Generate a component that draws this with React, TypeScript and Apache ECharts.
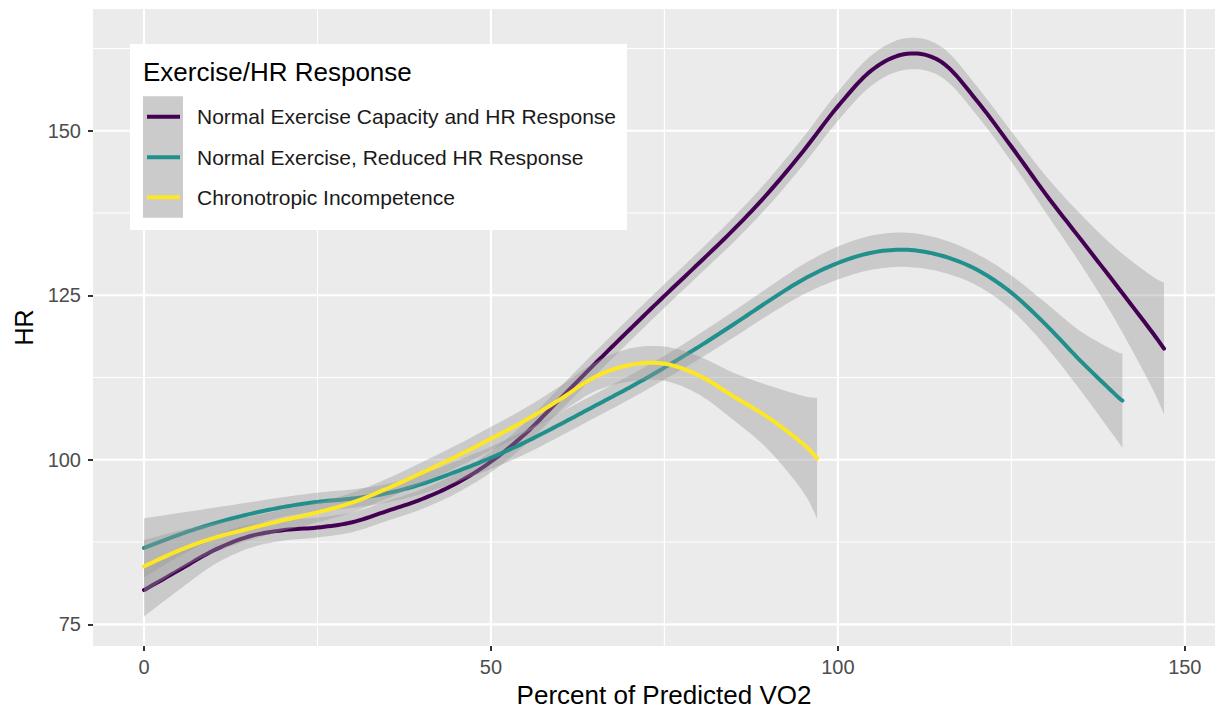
import React, { useEffect, useRef } from "react";
import * as echarts from "echarts";

// ---- Data ----
const legendTitle = "Exercise/HR Response";
const seriesNames = [
  "Normal Exercise Capacity and HR Response",
  "Normal Exercise, Reduced HR Response",
  "Chronotropic Incompetence",
];
const seriesColors = ["#440154", "#21908C", "#FDE725"];

const normalX = [0, 5, 10, 15, 20, 25, 30, 35, 40, 45, 50, 55, 60, 65, 70, 75, 80, 85, 90, 95, 100, 105, 110, 115, 120, 125, 130, 135, 140, 145, 147];
const normalHR = [80.2, 83.2, 86.2, 88.3, 89.3, 89.7, 90.5, 92.2, 94.0, 96.4, 99.7, 104.0, 109.3, 114.6, 119.8, 124.9, 129.9, 135.0, 140.6, 146.9, 153.7, 159.3, 161.7, 160.4, 154.6, 147.6, 140.3, 133.5, 126.7, 119.8, 116.9];
const normalSE = [4.0, 3.0, 2.2, 1.8, 1.6, 1.5, 1.5, 1.5, 1.5, 1.5, 1.6, 1.7, 1.8, 1.8, 1.8, 1.8, 1.8, 1.9, 2.0, 2.1, 2.2, 2.3, 2.4, 2.3, 2.2, 2.3, 2.8, 3.8, 5.5, 8.3, 10.0];

const reducedX = [0, 5, 10, 15, 20, 25, 30, 35, 40, 45, 50, 55, 60, 65, 70, 75, 80, 85, 90, 95, 100, 105, 110, 115, 120, 125, 130, 135, 140, 141];
const reducedHR = [86.6, 88.6, 90.3, 91.7, 92.8, 93.6, 94.1, 94.9, 96.3, 98.2, 100.3, 102.7, 105.4, 108.2, 111.0, 114.0, 117.2, 120.6, 124.1, 127.4, 129.9, 131.5, 131.9, 131.0, 128.9, 125.4, 120.5, 115.0, 109.9, 109.0];
const reducedSE = [4.5, 3.3, 2.4, 1.8, 1.5, 1.4, 1.4, 1.4, 1.5, 1.6, 1.7, 1.8, 1.8, 1.8, 1.8, 1.8, 1.9, 2.0, 2.1, 2.3, 2.5, 2.6, 2.6, 2.5, 2.4, 2.6, 3.3, 4.5, 6.6, 7.2];

const chronoX = [0, 5, 10, 15, 20, 25, 30, 35, 40, 45, 50, 55, 60, 65, 70, 75, 80, 85, 90, 95, 97];
const chronoHR = [83.8, 86.2, 88.1, 89.5, 90.8, 92.0, 93.5, 95.6, 98.0, 100.5, 103.2, 106.0, 109.2, 112.6, 114.4, 114.6, 112.8, 109.6, 106.4, 102.4, 100.2];
const chronoSE = [4.0, 3.0, 2.2, 1.8, 1.6, 1.5, 1.5, 1.5, 1.6, 1.7, 1.8, 1.9, 2.0, 2.2, 2.5, 2.6, 2.9, 3.6, 4.9, 7.3, 9.2];

const xMajorTicks = [0, 50, 100, 150];
const xMinorTicks = [25, 75, 125];
const yMajorTicks = [75, 100, 125, 150];
const yMinorTicks = [87.5, 112.5, 137.5, 162.5];

const X_MIN = -7.35;
const X_MAX = 154.35;
const Y_MIN = 71.7;
const Y_MAX = 168.5;

const xTitle = "Percent of Predicted VO2";
const yTitle = "HR";

const FONT = "'Liberation Sans', Arial, Helvetica, sans-serif";
const RIBBON = "rgba(153,153,153,0.4)";

const groups = [
  { x: normalX, y: normalHR, se: normalSE },
  { x: reducedX, y: reducedHR, se: reducedSE },
  { x: chronoX, y: chronoHR, se: chronoSE },
];

// Catmull-Rom smoothing of an already-projected pixel path (drawing only)
function smoothPath(pts: number[][], n = 10): number[][] {
  const out: number[][] = [];
  const L = pts.length;
  for (let i = 0; i < L - 1; i++) {
    const p0 = pts[Math.max(i - 1, 0)];
    const p1 = pts[i];
    const p2 = pts[i + 1];
    const p3 = pts[Math.min(i + 2, L - 1)];
    for (let s = 0; s < n; s++) {
      const t = s / n;
      const t2 = t * t;
      const t3 = t2 * t;
      const f = (a: number, b: number, c: number, d: number) =>
        0.5 * (2 * b + (-a + c) * t + (2 * a - 5 * b + 4 * c - d) * t2 + (-a + 3 * b - 3 * c + d) * t3);
      out.push([f(p0[0], p1[0], p2[0], p3[0]), f(p0[1], p1[1], p2[1], p3[1])]);
    }
  }
  out.push(pts[L - 1]);
  return out;
}

export default function App() {
  const ref = useRef<HTMLDivElement>(null);

  useEffect(() => {
    if (!ref.current) return;
    const chart = echarts.init(ref.current, undefined, { renderer: "svg" });

    const gridData: number[][] = [
      ...xMajorTicks.map((v) => [v, 0, 1]),
      ...xMinorTicks.map((v) => [v, 0, 0]),
      ...yMajorTicks.map((v) => [v, 1, 1]),
      ...yMinorTicks.map((v) => [v, 1, 0]),
    ];

    const series: any[] = [
      {
        type: "custom",
        name: "grid",
        z: 1,
        silent: true,
        data: gridData,
        encode: { x: -1, y: -1 },
        renderItem: (params: any, api: any) => {
          const v = api.value(0);
          const isY = api.value(1) === 1;
          const major = api.value(2) === 1;
          const p1 = isY ? api.coord([X_MIN, v]) : api.coord([v, Y_MIN]);
          const p2 = isY ? api.coord([X_MAX, v]) : api.coord([v, Y_MAX]);
          return {
            type: "line",
            shape: { x1: p1[0], y1: p1[1], x2: p2[0], y2: p2[1] },
            style: { stroke: "#FFFFFF", lineWidth: major ? 2.2 : 1.1 },
          };
        },
      },
    ];

    groups.forEach((g, i) => {
      const ribbonData = g.x.map((x, k) => [x, g.y[k] - g.se[k], g.y[k] + g.se[k]]);
      series.push({
        type: "custom",
        name: "ribbon" + i,
        z: 2 + i * 2,
        silent: true,
        data: ribbonData,
        encode: { x: 0, y: [1, 2] },
        renderItem: (params: any, api: any) => {
          if (params.dataIndex !== 0) return null;
          const upper = ribbonData.map((d) => api.coord([d[0], d[2]]));
          const lower = ribbonData.map((d) => api.coord([d[0], d[1]]));
          const pts = [...smoothPath(upper), ...smoothPath(lower).reverse()];
          return {
            type: "polygon",
            shape: { points: pts },
            style: { fill: RIBBON, stroke: "none" },
          };
        },
      });
      const lineData = g.x.map((x, k) => [x, g.y[k]]);
      series.push({
        type: "custom",
        name: seriesNames[i],
        z: 3 + i * 2,
        silent: true,
        data: lineData,
        encode: { x: 0, y: 1 },
        renderItem: (params: any, api: any) => {
          if (params.dataIndex !== 0) return null;
          const pts = smoothPath(lineData.map((d) => api.coord([d[0], d[1]])));
          return {
            type: "polyline",
            shape: { points: pts },
            style: {
              stroke: seriesColors[i],
              lineWidth: 4,
              fill: "none",
              lineCap: "round",
              lineJoin: "round",
            },
          };
        },
      });
    });

    const legendX = 130;
    const legendY = 44;
    const keyRows = [116.7, 157.3, 197.3];
    const graphicEls: any[] = [
      {
        type: "rect",
        shape: { x: legendX, y: legendY, width: 497, height: 186 },
        style: { fill: "#FFFFFF" },
        z: 100,
      },
      {
        type: "text",
        x: 143,
        y: 72,
        style: {
          text: legendTitle,
          fill: "#000000",
          font: `26px ${FONT}`,
          verticalAlign: "middle",
        },
        z: 101,
      },
    ];
    keyRows.forEach((ry, i) => {
      graphicEls.push({
        type: "rect",
        shape: { x: 143, y: ry - 20.5, width: 40, height: 41 },
        style: { fill: "#CBCBCB" },
        z: 101,
      });
      graphicEls.push({
        type: "line",
        shape: { x1: 147, y1: ry, x2: 180, y2: ry },
        style: { stroke: seriesColors[i], lineWidth: 4 },
        z: 102,
      });
      graphicEls.push({
        type: "text",
        x: 197,
        y: ry,
        style: {
          text: seriesNames[i],
          fill: "#1A1A1A",
          font: `21px ${FONT}`,
          verticalAlign: "middle",
        },
        z: 102,
      });
    });

    chart.setOption({
      animation: false,
      backgroundColor: "#FFFFFF",
      grid: {
        left: 93,
        top: 9,
        width: 1122,
        height: 641,
        show: true,
        backgroundColor: "#EBEBEB",
        borderWidth: 0,
        containLabel: false,
      },
      xAxis: {
        type: "value",
        min: X_MIN,
        max: X_MAX,
        axisLine: { show: false, onZero: false },
        splitLine: { show: false },
        axisTick: {
          show: true,
          customValues: xMajorTicks,
          length: 5,
          lineStyle: { color: "#333333", width: 2 },
        },
        axisLabel: {
          customValues: xMajorTicks,
          color: "#4D4D4D",
          fontSize: 20,
          fontFamily: FONT,
          margin: 11,
        },
        name: xTitle,
        nameLocation: "middle",
        nameGap: 36,
        nameTextStyle: {
          color: "#000000",
          fontSize: 26,
          fontFamily: FONT,
          padding: [0, 0, 0, 20],
        },
      },
      yAxis: {
        type: "value",
        min: Y_MIN,
        max: Y_MAX,
        axisLine: { show: false, onZero: false },
        splitLine: { show: false },
        axisTick: {
          show: true,
          customValues: yMajorTicks,
          length: 5,
          lineStyle: { color: "#333333", width: 2 },
        },
        axisLabel: {
          customValues: yMajorTicks,
          color: "#4D4D4D",
          fontSize: 20,
          fontFamily: FONT,
          margin: 12,
        },
        name: yTitle,
        nameLocation: "middle",
        nameGap: 50,
        nameTextStyle: {
          color: "#000000",
          fontSize: 25,
          fontFamily: FONT,
        },
      },
      series,
      graphic: { elements: graphicEls },
    });

    return () => {
      chart.dispose();
    };
  }, []);

  return (
    <div
      ref={ref}
      style={{ position: "fixed", left: 0, top: 0, width: 1221, height: 713 }}
    />
  );
}
